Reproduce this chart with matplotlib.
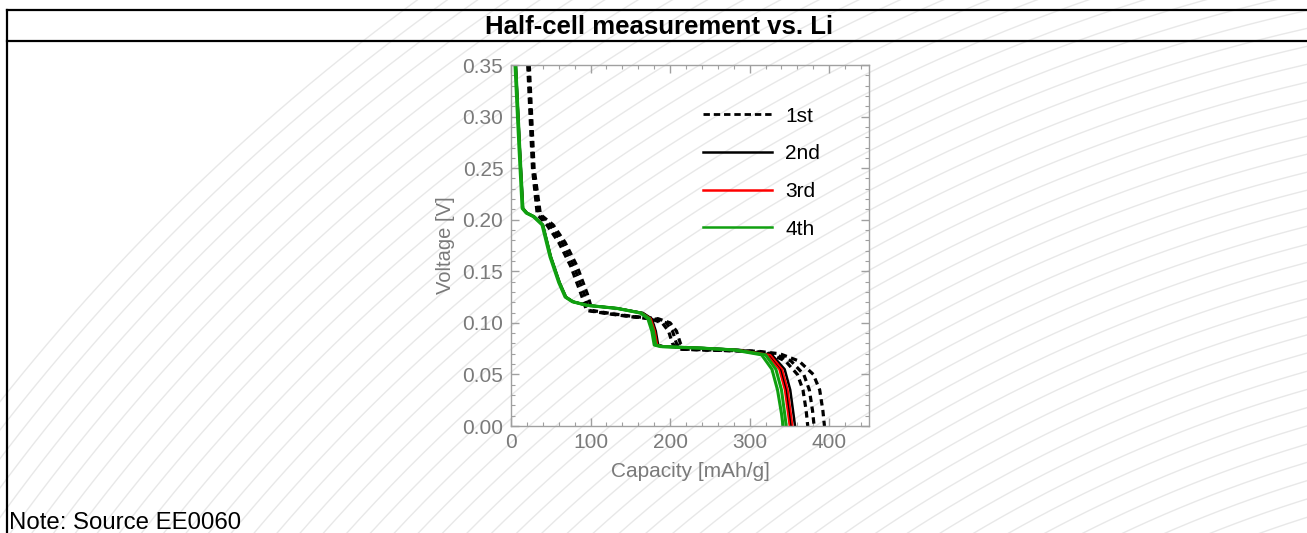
import numpy as np
import matplotlib
matplotlib.use("Agg")
import matplotlib.pyplot as plt
from matplotlib.lines import Line2D

plt.rcParams['font.family'] = ['Liberation Sans', 'DejaVu Sans']

# ---------------- data ----------------
title = "Half-cell measurement vs. Li"
note = "Note: Source EE0060"
x_label = "Capacity [mAh/g]"
y_label = "Voltage [V]"
x_ticks = [0, 100, 200, 300, 400]
y_ticks = [0.00, 0.05, 0.10, 0.15, 0.20, 0.25, 0.30, 0.35]
cycle_labels = ["1st", "2nd", "3rd", "4th"]

# 1st cycle (dashed), three cells
v_1st = [0.35, 0.30, 0.25, 0.205, 0.195, 0.178, 0.155, 0.128, 0.112, 0.109, 0.106,
         0.104, 0.100, 0.092, 0.080, 0.0745, 0.0735, 0.0725, 0.070, 0.063, 0.050,
         0.035, 0.015, 0.0]
cap_1st_a = [21, 24, 27, 33, 45, 60, 75, 88, 95, 120, 150, 175, 190, 198, 203, 210,
             250, 300, 325, 345, 360, 367, 371, 373]
cap_1st_b = [22, 25, 28, 35, 49, 64, 79, 92, 98, 123, 153, 180, 195, 203, 208, 214,
             255, 305, 330, 352, 368, 375, 379, 381]
cap_1st_c = [23, 26, 29, 37, 53, 68, 83, 96, 102, 126, 156, 185, 200, 208, 213, 219,
             260, 310, 338, 362, 380, 388, 392, 394]

# later cycles (solid)
v_later = [0.35, 0.27, 0.211, 0.2065, 0.203, 0.195, 0.164, 0.139, 0.125, 0.1205,
           0.117, 0.114, 0.1095, 0.104, 0.092, 0.0785, 0.077, 0.0755, 0.0737, 0.069,
           0.055, 0.035, 0.012, 0.0]
cap_2nd_a = [6, 11, 15, 20, 29, 40, 50, 61, 69, 78, 96, 134, 165, 176, 181, 184, 192,
             242, 286, 324, 339, 346, 350, 352]
cap_2nd_b = [6, 11, 15, 20, 29, 40, 50, 61, 69, 78, 96, 134, 166, 177, 182, 185, 193,
             243, 288, 328, 344, 351, 355, 357]
cap_3rd_a = [6, 11, 15, 20, 29, 40, 50, 61, 69, 78, 96, 134, 165, 175, 180, 183, 191,
             241, 285, 322, 337, 344, 348, 350]
cap_3rd_b = [6, 11, 15, 20, 29, 40, 50, 61, 69, 78, 96, 134, 165, 176, 181, 184, 192,
             242, 287, 326, 341, 348, 352, 354]
cap_4th_a = [5, 10, 14, 19, 28, 39, 49, 60, 68, 77, 95, 133, 163, 172, 177, 180, 188,
             238, 280, 315, 328, 335, 340, 342]
cap_4th_b = [6, 11, 15, 20, 29, 40, 50, 61, 69, 78, 96, 134, 164, 174, 179, 182, 190,
             240, 283, 320, 333, 340, 344, 346]

# ---------------- figure ----------------
W, H = 1307, 533
fig = plt.figure(figsize=(W / 100, H / 100), dpi=100)
fig.patch.set_facecolor('white')

# decorative background (concentric arcs) + frame, in pixel coordinates
bg = fig.add_axes([0, 0, 1, 1], zorder=0)
bg.set_xlim(0, W)
bg.set_ylim(H, 0)
bg.axis('off')
cx, cy = 1693, 1743
theta = np.linspace(np.pi * 0.95, np.pi * 1.55, 600)
for r in np.arange(1250, 2165, 17.5):
    bg.plot(cx + r * np.cos(theta), cy + r * np.sin(theta), color='#e8e8e8',
            lw=1.0, solid_capstyle='butt')
bg.plot([7, W], [9.5, 9.5], color='black', lw=1.6)
bg.plot([7, W], [41, 41], color='black', lw=1.6)
bg.plot([7, 7], [9.5, H], color='black', lw=1.6)
bg.text(659, 26.5, title, ha='center', va='center', fontsize=18.5, fontweight='bold')
bg.text(9, 529, note, ha='left', va='baseline', fontsize=17.3)

# main axes
ax = fig.add_axes([511 / W, 1 - 426 / H, (869 - 511) / W, (426 - 65) / H], zorder=2)
ax.set_facecolor('none')

dash = (2.0, 1.4)
for cap in (cap_1st_a, cap_1st_b, cap_1st_c):
    ax.plot(cap, v_1st, color='black', lw=2.3, ls=(0, dash), dash_capstyle='butt')
for cap in (cap_2nd_a, cap_2nd_b):
    ax.plot(cap, v_later, color='black', lw=1.8)
for cap in (cap_3rd_a, cap_3rd_b):
    ax.plot(cap, v_later, color='#ff0000', lw=1.3)
for cap in (cap_4th_a, cap_4th_b):
    ax.plot(cap, v_later, color='#10a010', lw=2.2)

ax.set_xlim(0, 450)
ax.set_ylim(0, 0.35)
ax.set_xticks(x_ticks)
ax.set_yticks(y_ticks)
ax.set_xticks(np.arange(0, 451, 20), minor=True)
ax.set_yticks(np.arange(0, 0.351, 0.01), minor=True)
ax.set_yticklabels([f"{t:.2f}" for t in y_ticks])

gray = '#7a7a7a'
for s in ax.spines.values():
    s.set_color('#a0a0a0')
    s.set_linewidth(1.0)
ax.tick_params(which='both', direction='in', top=True, right=True, colors='#a0a0a0',
               labelcolor=gray, labelsize=15)
ax.tick_params(which='major', length=6, width=1)
ax.tick_params(which='minor', length=3, width=0.8)
ax.tick_params(axis='x', which='major', pad=5)
ax.tick_params(axis='y', which='major', pad=5.5)
ax.set_xlabel(x_label, color=gray, fontsize=15, labelpad=7.5)
ax.set_ylabel(y_label, color=gray, fontsize=14.5, labelpad=5)

handles = [
    Line2D([], [], color='black', lw=2.0, ls=(0, (2.3, 1.4))),
    Line2D([], [], color='black', lw=1.8),
    Line2D([], [], color='#ff0000', lw=1.8),
    Line2D([], [], color='#10a010', lw=1.8),
]
fs_leg = 15
px = fs_leg * 100 / 72
leg = ax.legend(handles, cycle_labels, loc='upper left',
                bbox_to_anchor=((703 - 511) / (869 - 511),
                                1 - (119 - 0.6 * px - 65) / (426 - 65)),
                frameon=False, fontsize=fs_leg, handlelength=69 / px,
                handletextpad=13 / px, labelspacing=0.9,
                borderpad=0, borderaxespad=0)

fig.savefig('out.png', dpi=100, facecolor='white')
